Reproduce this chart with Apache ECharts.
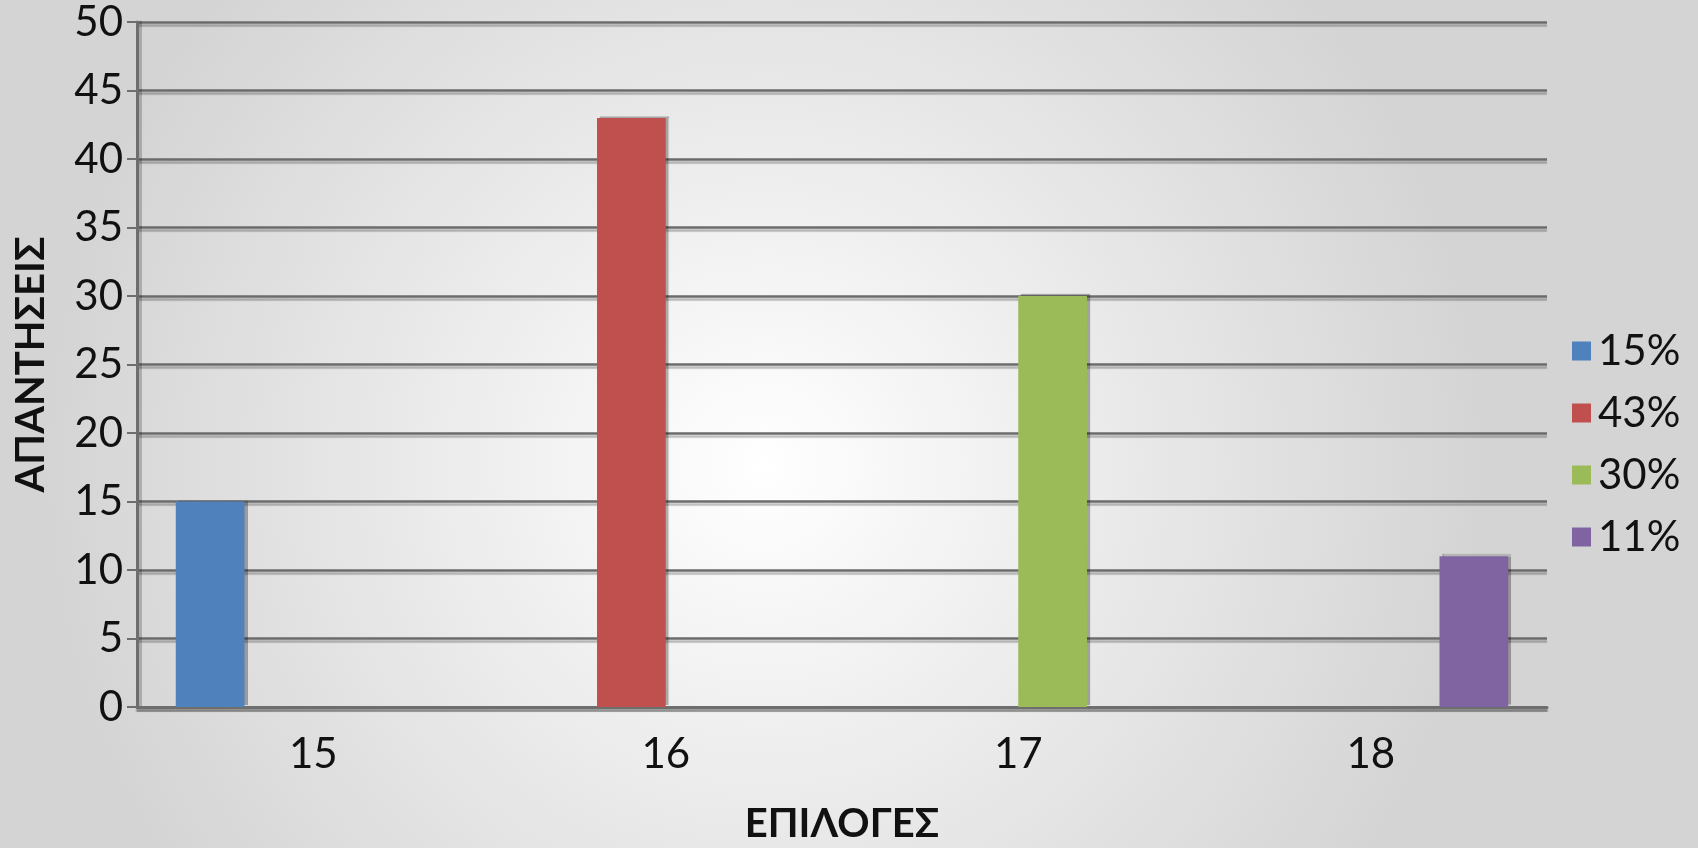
<!DOCTYPE html>
<html>
<head>
<meta charset="utf-8">
<script src="https://cdn.jsdelivr.net/npm/echarts@6/dist/echarts.min.js"></script>
<style>
html,body{margin:0;padding:0;width:1698px;height:848px;overflow:hidden;}
#main{width:1698px;height:848px;}
</style>
</head>
<body>
<div id="main"></div>
<script>
const categories = ['15', '16', '17', '18'];
const seriesNames = ['15%', '43%', '30%', '11%'];
const s15 = [15, null, null, null];
const s43 = [null, 43, null, null];
const s30 = [null, null, 30, null];
const s11 = [null, null, null, 11];
const colors = ['#4f81bd', '#c0504d', '#9bbb59', '#8064a2'];
const yTicks = { min: 0, max: 50, interval: 5 };

const seriesData = [s15, s43, s30, s11];
const FONT = 'Lato, "Open Sans", sans-serif';

const chart = echarts.init(document.getElementById('main'));
chart.setOption({
  backgroundColor: {
    type: 'radial', x: 0.45, y: 0.55, r: 0.85,
    colorStops: [
      { offset: 0, color: '#ffffff' },
      { offset: 1, color: '#d4d4d4' }
    ]
  },
  animation: false,
  grid: { left: 137, right: 151, top: 22, bottom: 141, containLabel: false, outerBoundsMode: 'none' },
  legend: {
    orient: 'vertical',
    left: 1572,
    top: 330,
    padding: 0,
    itemWidth: 19,
    itemHeight: 19,
    itemGap: 20,
    icon: 'rect',
    textStyle: { fontFamily: FONT, fontSize: 42, color: '#111', lineHeight: 40, padding: [0, 0, 0, 2] },
    data: seriesNames
  },
  xAxis: {
    type: 'category',
    data: categories,
    name: 'ΕΠΙΛΟΓΕΣ',
    nameLocation: 'middle',
    nameGap: 97,
    nameTextStyle: { fontFamily: FONT, fontSize: 40, fontWeight: 'bold', color: '#111' },
    axisLine: { show: true, lineStyle: { color: '#6e6e6e', width: 3, shadowColor: 'rgba(0,0,0,0.2)', shadowOffsetY: 3 } },
    axisTick: { show: false },
    axisLabel: { fontFamily: FONT, fontSize: 42, color: '#111', margin: 26 },
    splitLine: { show: false }
  },
  yAxis: {
    type: 'value',
    min: yTicks.min, max: yTicks.max, interval: yTicks.interval,
    name: 'ΑΠΑΝΤΗΣΕΙΣ',
    nameLocation: 'middle',
    nameGap: 86,
    nameRotate: 90,
    nameTextStyle: { fontFamily: FONT, fontSize: 40, fontWeight: 'bold', color: '#111' },
    axisLine: { show: true, lineStyle: { color: '#6e6e6e', width: 3, shadowColor: 'rgba(0,0,0,0.2)', shadowOffsetX: 3 } },
    axisTick: { show: true, length: 10, lineStyle: { color: '#6e6e6e', width: 2 } },
    axisLabel: { fontFamily: FONT, fontSize: 42, color: '#111', margin: 14 },
    splitLine: { show: true, lineStyle: { color: '#6b6b6b', width: 2.5, shadowColor: 'rgba(0,0,0,0.25)', shadowOffsetY: 3, shadowBlur: 1 } }
  },
  series: seriesData.map((d, i) => ({
    name: seriesNames[i],
    type: 'bar',
    data: d,
    barGap: '0%',
    barCategoryGap: '22%',
    itemStyle: { color: colors[i], shadowColor: 'rgba(0,0,0,0.3)', shadowOffsetX: 3, shadowOffsetY: -2, shadowBlur: 1 }
  }))
});
</script>
</body>
</html>
